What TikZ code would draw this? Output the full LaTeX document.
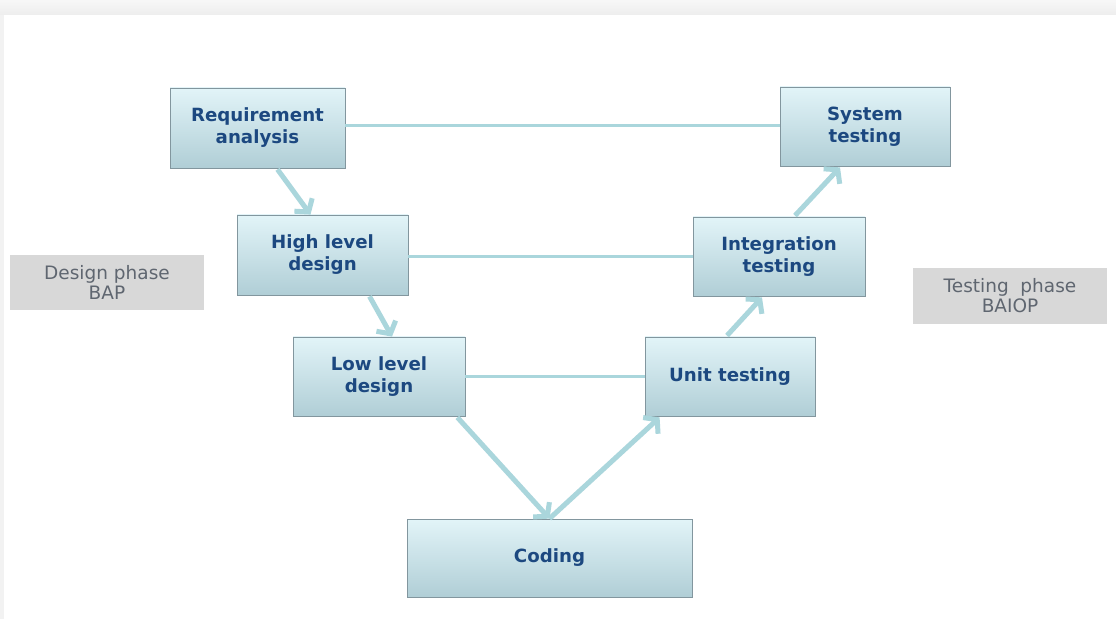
\documentclass[tikz,border=0pt]{standalone}
\usepackage{fontspec}
\setmainfont{DejaVu Sans}
\usetikzlibrary{arrows.meta}
\definecolor{boxtop}{RGB}{226,244,248}
\definecolor{boxbot}{RGB}{176,206,214}
\definecolor{boxline}{RGB}{130,150,158}
\definecolor{boxtext}{RGB}{28,72,128}
\definecolor{arrowc}{RGB}{170,214,220}
\definecolor{phasefill}{RGB}{216,216,216}
\definecolor{phasetext}{RGB}{95,102,112}
\tikzset{
  stage/.style={draw=boxline, line width=0.8pt, top color=boxtop, bottom color=boxbot,
    align=center, text=boxtext, font=\fontsize{18.2}{22}\selectfont\bfseries,
    inner sep=0pt},
  phase/.style={fill=phasefill, align=center, text=phasetext,
    font=\fontsize{18.5}{20}\selectfont, inner sep=0pt, minimum width=194pt},
  flow/.style={draw=arrowc, line width=5pt, -{Straight Barb[length=9pt,width=22pt,line width=5pt]}},
  link/.style={draw=arrowc, line width=3pt}
}
\begin{document}
\begin{tikzpicture}[x=1pt,y=1pt]
\useasboundingbox (0,0) rectangle (1116,619);
\fill[white] (0,0) rectangle (1116,619);
\shade[top color=gray!6, bottom color=gray!14] (0,604) rectangle (1116,619);
\fill[gray!10] (0,0) rectangle (4,604);
% stage boxes
\node[stage, minimum width=175pt, minimum height=80pt] (req) at (257.5,491) {Requirement\\analysis};
\node[stage, minimum width=170pt, minimum height=79pt] (sys) at (865,492.5) {System\\testing};
\node[stage, minimum width=171pt, minimum height=80pt] (hld) at (322.5,364) {High level\\design};
\node[stage, minimum width=172pt, minimum height=79pt] (int) at (779,362.5) {Integration\\testing};
\node[stage, minimum width=172pt, minimum height=79pt] (lld) at (379,242.5) {Low level\\design};
\node[stage, minimum width=170pt, minimum height=79pt] (unit) at (730,242.5) {Unit testing};
\node[stage, minimum width=285pt, minimum height=78pt] (cod) at (549.5,61) {Coding};
% phase labels
\node[phase, minimum height=55pt] (dp) at (107,336.5) {Design phase\\BAP};
\node[phase, minimum height=56pt] (tp) at (1010,323) {Testing\ \ phase\\BAIOP};
% horizontal links
\draw[link] ([yshift=2pt]req.east) -- ([yshift=2pt]req.east -| sys.west);
\draw[link] ([yshift=-2pt]hld.east) -- ([yshift=-2pt]hld.east -| int.west);
\draw[link] (lld.east) -- (lld.east -| unit.west);
% flow arrows
\draw[flow] ([xshift=20pt,yshift=-1pt]req.south) -- ([xshift=-12pt]hld.north);
\draw[flow] ([xshift=47pt,yshift=-1pt]hld.south) -- ([xshift=13pt]lld.north);
\draw[flow] ([xshift=-8pt,yshift=-1pt]lld.south east) -- (cod.north);
\draw[flow] (cod.north) -- ([xshift=15pt,yshift=-1pt]unit.south west);
\draw[flow] ([xshift=-3pt,yshift=1pt]unit.north) -- ([xshift=-17pt,yshift=-1pt]int.south);
\draw[flow] ([xshift=16pt,yshift=1pt]int.north) -- ([xshift=-25pt,yshift=-1pt]sys.south);
\end{tikzpicture}
\end{document}
